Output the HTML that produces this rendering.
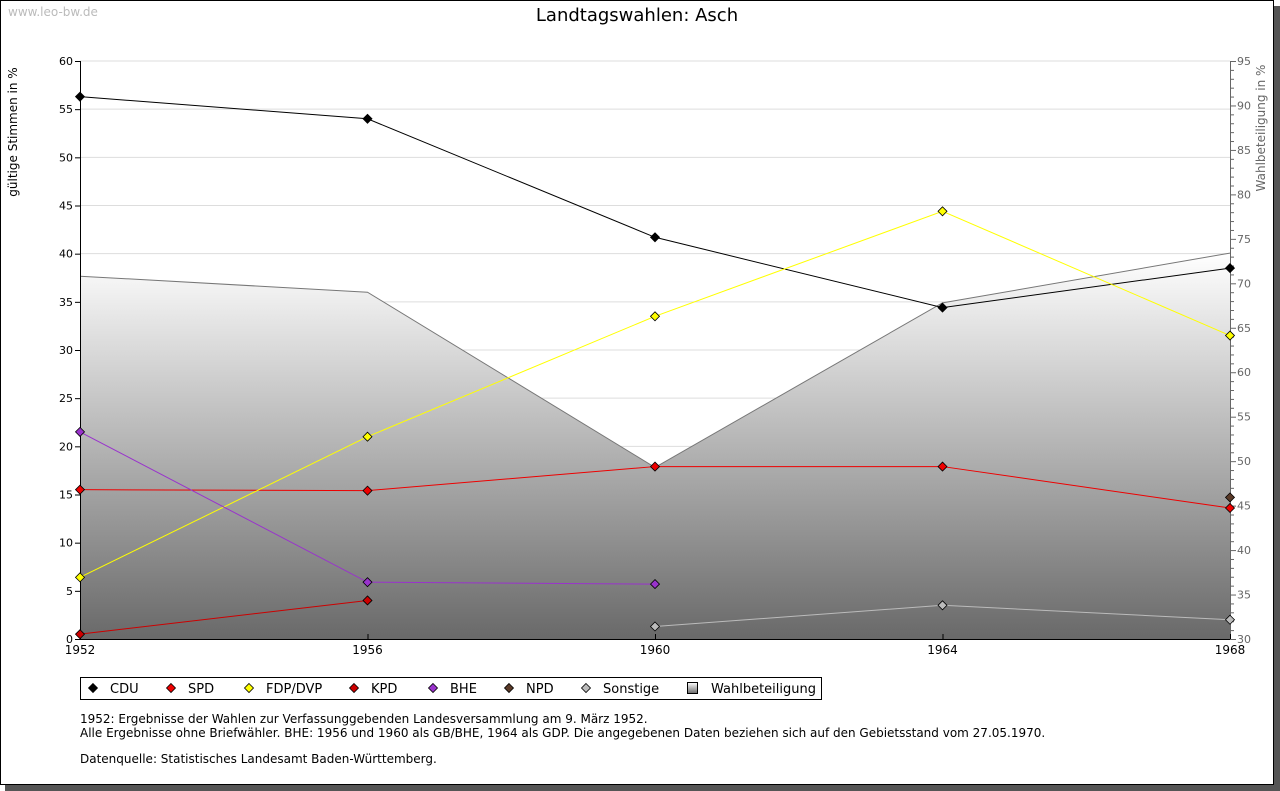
<!DOCTYPE html>
<html><head><meta charset="utf-8"><style>
body{margin:0;background:#fff;}
svg{display:block;font-family:"DejaVu Sans","Liberation Sans",sans-serif;}
</style></head><body>
<svg id="c" width="1280" height="791" viewBox="0 0 1280 791">
<defs>
<linearGradient id="g" x1="0" y1="0" x2="0" y2="1">
<stop offset="0" stop-color="#ffffff"/><stop offset="1" stop-color="#696969"/>
</linearGradient>
</defs>
<rect x="5" y="6" width="1275" height="785" fill="#555"/>
<rect x="0.5" y="0.5" width="1273" height="784" fill="#fff" stroke="#000"/>
<text x="8" y="16" font-size="12" fill="#bbb">www.leo-bw.de</text>
<text x="637" y="21" font-size="18" text-anchor="middle" fill="#000">Landtagswahlen: Asch</text>
<text transform="translate(17,132) rotate(-90)" font-size="12" text-anchor="middle">gültige Stimmen in %</text>
<text transform="translate(1265,128) rotate(-90)" font-size="12" text-anchor="middle" fill="#666">Wahlbeteiligung in %</text>
<g id="plot"></g>
<g>
<rect x="80.5" y="677.5" width="741" height="22" fill="#fff" stroke="#000"/>
<g id="leg"></g>
</g>
<g font-size="12" fill="#000">
<text x="80" y="723">1952: Ergebnisse der Wahlen zur Verfassunggebenden Landesversammlung am 9. März 1952.</text>
<text x="80" y="737">Alle Ergebnisse ohne Briefwähler. BHE: 1956 und 1960 als GB/BHE, 1964 als GDP. Die angegebenen Daten beziehen sich auf den Gebietsstand vom 27.05.1970.</text>
<text x="80" y="763">Datenquelle: Statistisches Landesamt Baden-Württemberg.</text>
</g>
</svg>
<script>
const years=[1952,1956,1960,1964,1968];
const leftTicks=[0,5,10,15,20,25,30,35,40,45,50,55,60];
const rightTicks=[30,35,40,45,50,55,60,65,70,75,80,85,90,95];
const turnout=[70.8,69.0,49.3,67.8,73.4];
const cdu=[56.3,54.0,41.7,34.4,38.5];
const spd=[15.5,15.4,17.9,17.9,13.6];
const fdp=[6.4,21.0,33.5,44.4,31.5];
const kpd=[0.5,4.0,null,null,null];
const bhe=[21.5,5.9,5.7,null,null];
const npd=[null,null,null,null,14.7];
const sonst=[null,null,1.3,3.5,2.0];
const series=[
 {n:'CDU',v:cdu,line:'#000',fill:'#000'},
 {n:'SPD',v:spd,line:'#e00',fill:'#e00'},
 {n:'FDP/DVP',v:fdp,line:'#ff0',fill:'#ff0'},
 {n:'KPD',v:kpd,line:'#c00',fill:'#c00'},
 {n:'BHE',v:bhe,line:'#9933cc',fill:'#9933cc'},
 {n:'NPD',v:npd,line:'#5a3a28',fill:'#5a3a28'},
 {n:'Sonstige',v:sonst,line:'#bbb',fill:'#bbb'}
];
const X0=80,X1=1230,YT=61,YB=639;
const xs=y=>X0+(y-1952)/(1968-1952)*(X1-X0);
const yl=v=>YB-v/60*(YB-YT);
const yr=v=>YB-(v-30)/65*(YB-YT);
const NS='http://www.w3.org/2000/svg';
const P=document.getElementById('plot');
function mk(t,a,p){const e=document.createElementNS(NS,t);for(const k in a)e.setAttribute(k,a[k]);(p||P).appendChild(e);return e;}
// grid
leftTicks.forEach(t=>{
 const g=mk('line',{x1:X0,x2:X1,y1:yl(t),y2:yl(t),stroke:'#ddd'});
 
 
});
// area
let d='M'+xs(years[0])+','+YB;
years.forEach((y,i)=>d+=' L'+xs(y)+','+yr(turnout[i]));
d+=' L'+xs(years[years.length-1])+','+YB+' Z';
const ar=mk('path',{d:d,fill:'url(#g)'});


const al=mk('polyline',{points:years.map((y,i)=>xs(y)+','+yr(turnout[i])).join(' '),fill:'none',stroke:'#777'});


// axes
mk('line',{x1:X0+.5,x2:X0+.5,y1:YT,y2:YB,stroke:'#000'});
mk('line',{x1:X1+.5,x2:X1+.5,y1:YT,y2:YB,stroke:'#666'});
mk('line',{x1:X0,x2:X1,y1:YB+.5,y2:YB+.5,stroke:'#000'});
leftTicks.forEach(t=>{
 mk('line',{x1:X0-5,x2:X0,y1:yl(t)+.5,y2:yl(t)+.5,stroke:'#000'});
 const tx=mk('text',{x:X0-7,y:yl(t)+4,'font-size':11,'text-anchor':'end'});tx.textContent=t;
 
 
});
for(let v=30;v<=95;v++){const y=yr(v)+.5;mk('line',{x1:X1,x2:X1+(v%5?4:6),y1:y,y2:y,stroke:'#666'});}
rightTicks.forEach(t=>{
 const tx=mk('text',{x:X1+7,y:yr(t)+4,'font-size':11,fill:'#666'});tx.textContent=t;
 
 
});
years.forEach(y=>{
 mk('line',{x1:xs(y)+.5,x2:xs(y)+.5,y1:YB-5,y2:YB,stroke:'#000'});
 const tx=mk('text',{x:xs(y),y:YB+15,'font-size':12,'text-anchor':'middle'});tx.textContent=y;
 
 
});
// series
function dia(x,y,f,p){return mk('path',{d:`M${x},${y-4.5} L${x+4.5},${y} L${x},${y+4.5} L${x-4.5},${y} Z`,fill:f,stroke:'#000','stroke-width':.8},p);}
series.forEach(s=>{
 const pts=[];s.v.forEach((v,i)=>{if(v!=null)pts.push([xs(years[i]),yl(v)]);});
 if(pts.length>1){const l=mk('polyline',{points:pts.map(p=>p.join(',')).join(' '),fill:'none',stroke:s.line});
  
  }
});
series.forEach(s=>{
 s.v.forEach((v,i)=>{if(v==null)return;const m=dia(xs(years[i]),yl(v),s.fill);
  
  });
});
// legend
const L=document.getElementById('leg');
const lx=[93,171,249,354,433,509,586];
series.forEach((s,i)=>{
 const g=mk('g',{},L);
 
 
 dia(lx[i],688,s.fill,g);
 const t=mk('text',{x:lx[i]+17,y:693,'font-size':13},g);t.textContent=s.n;
});
const g=mk('g',{},L);


mk('rect',{x:687.5,y:682.5,width:10,height:11,fill:'url(#g)',stroke:'#000'},g);
const t=mk('text',{x:711,y:693,'font-size':13},g);t.textContent='Wahlbeteiligung';
</script>
</body></html>
